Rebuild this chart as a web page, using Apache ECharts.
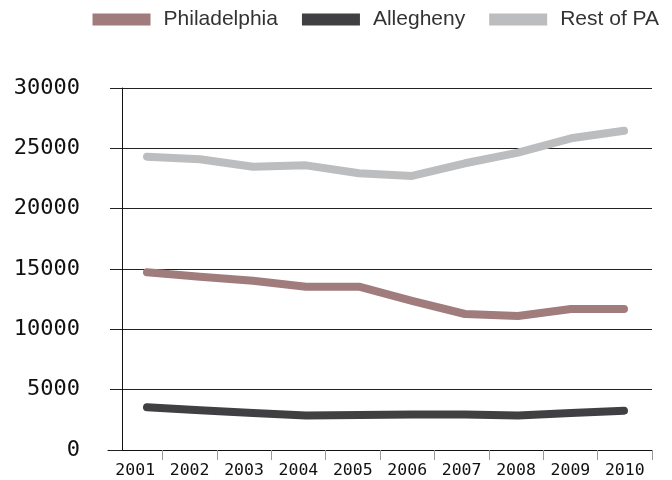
<!DOCTYPE html>
<html>
<head>
<meta charset="utf-8">
<script src="https://cdn.jsdelivr.net/npm/echarts@6/dist/echarts.min.js"></script>
<style>
html,body{margin:0;padding:0;background:#fff;}
#chart{width:672px;height:480px;}
</style>
</head>
<body>
<div id="chart"></div>
<script>
var years = ['2001','2002','2003','2004','2005','2006','2007','2008','2009','2010'];
var philadelphia = [14730, 14360, 14030, 13530, 13530, 12350, 11270, 11100, 11690, 11690];
var allegheny = [3540, 3300, 3070, 2850, 2900, 2940, 2940, 2860, 3070, 3260];
var restOfPA = [24310, 24090, 23480, 23590, 22930, 22710, 23760, 24640, 25830, 26460];
var yTicks = [0, 5000, 10000, 15000, 20000, 25000, 30000];
var seriesNames = ['Philadelphia', 'Allegheny', 'Rest of PA'];
var seriesColors = ['#a07c7c', '#404042', '#bcbdbf'];

var chart = echarts.init(document.getElementById('chart'), null, {renderer: 'canvas'});
var mono = '"DejaVu Sans Mono", monospace';
var yMax = yTicks[yTicks.length - 1];
var yStep = yTicks[1] - yTicks[0];

function mk(name, data, color) {
  return {
    name: name, type: 'line', data: data,
    xAxisIndex: 2, yAxisIndex: 2,
    symbol: 'none', smooth: false,
    lineStyle: {width: 8, color: color, cap: 'round', join: 'round'},
    itemStyle: {color: color, borderWidth: 0},
    emphasis: {disabled: true},
    z: 5
  };
}

chart.setOption({
  animation: false,
  backgroundColor: '#fff',
  legend: {
    data: seriesNames,
    right: 8, top: 4,
    icon: 'rect', symbolKeepAspect: false,
    itemWidth: 58, itemHeight: 12, itemGap: 24,
    itemStyle: {borderWidth: 0},
    textStyle: {fontFamily: '"Liberation Sans", Arial, sans-serif', fontSize: 21, color: '#333', padding: [0, 0, 0, 8]}
  },
  grid: [
    {left: 122, right: 20, top: 88, bottom: 30},
    {left: 108, right: 20, top: 88, bottom: 30},
    {left: 147, right: 48, top: 88, bottom: 30}
  ],
  xAxis: [
    {gridIndex: 0, type: 'category', data: years, show: false},
    {gridIndex: 1, type: 'category', data: years, boundaryGap: true,
     axisLine: {show: true, lineStyle: {color: '#111', width: 1}},
     axisTick: {show: true, length: 10, lineStyle: {color: '#999'}, interval: function (i) { return i > 0; }},
     axisLabel: {fontFamily: mono, fontSize: 16.5, color: '#111', margin: 12, interval: 0},
     splitLine: {show: false}},
    {gridIndex: 2, type: 'category', data: years, boundaryGap: false, show: false}
  ],
  yAxis: [
    {gridIndex: 0, type: 'value', min: 0, max: yMax, interval: yStep,
     axisLine: {show: true, lineStyle: {color: '#111', width: 1}},
     axisTick: {show: true, length: 12, lineStyle: {color: '#222'}},
     axisLabel: {fontFamily: mono, fontSize: 22, color: '#111', margin: 42, padding: [0, 0, 8, 0],
       formatter: function (v) { return String(v); }},
     splitLine: {show: true, lineStyle: {color: '#222', width: 1}}},
    {gridIndex: 1, type: 'value', min: 0, max: yMax, show: false},
    {gridIndex: 2, type: 'value', min: 0, max: yMax, show: false}
  ],
  series: [
    mk(seriesNames[0], philadelphia, seriesColors[0]),
    mk(seriesNames[1], allegheny, seriesColors[1]),
    mk(seriesNames[2], restOfPA, seriesColors[2])
  ]
});
</script>
</body>
</html>
